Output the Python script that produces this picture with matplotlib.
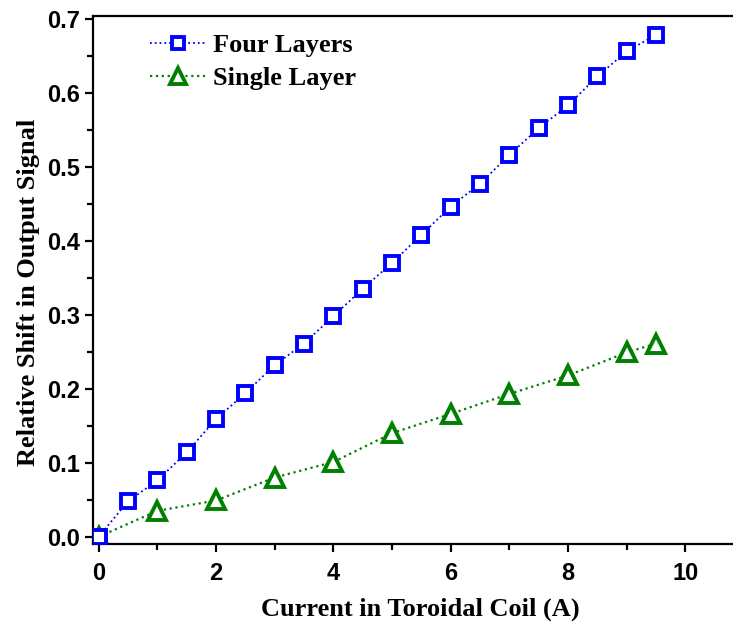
import matplotlib
matplotlib.use("Agg")
import matplotlib.pyplot as plt
from matplotlib.ticker import MultipleLocator

four_x = [0, 0.5, 1, 1.5, 2, 2.5, 3, 3.5, 4, 4.5, 5, 5.5, 6, 6.5, 7, 7.5, 8, 8.5, 9, 9.5]
four_y = [0.0, 0.048, 0.076, 0.114, 0.159, 0.194, 0.232, 0.261, 0.298, 0.335, 0.370, 0.408,
          0.446, 0.477, 0.516, 0.552, 0.583, 0.622, 0.656, 0.678]
single_x = [0, 1, 2, 3, 4, 5, 6, 7, 8, 9, 9.5]
single_y = [0.0, 0.035, 0.049, 0.080, 0.101, 0.140, 0.166, 0.193, 0.218, 0.249, 0.261]

fig = plt.figure(figsize=(7.33, 6.3), dpi=100)
ax = fig.add_axes([93/733, 86/630, 1 - 93/733, (544-16)/630])

ax.plot(four_x, four_y, linestyle=':', color='#0000ff', lw=1.3, marker='s', ms=10,
        mfc='white', mec='#0000ff', mew=2.8, label='Four Layers', zorder=3)
ax.plot(single_x, single_y, linestyle=':', color='#008000', lw=1.6, marker='^', ms=13,
        mfc='white', mec='#008000', mew=2.8, label='Single Layer', zorder=2)

ax.set_xlim(-0.097, 10.81)
ax.set_ylim(-0.0098, 0.7035)
ax.xaxis.set_major_locator(MultipleLocator(2))
ax.xaxis.set_minor_locator(MultipleLocator(1))
ax.yaxis.set_major_locator(MultipleLocator(0.1))
ax.yaxis.set_minor_locator(MultipleLocator(0.05))
ax.spines['right'].set_visible(False)
for s in ['left', 'bottom', 'top']:
    ax.spines[s].set_linewidth(1.6)
ax.tick_params(which='major', direction='out', length=6, width=1.6, top=False, right=False)
ax.tick_params(which='minor', direction='out', length=4, width=1.6, top=False, right=False)
ax.set_yticks([0, 0.1, 0.2, 0.3, 0.4, 0.5, 0.6, 0.7])
ax.set_yticklabels(['0.0', '0.1', '0.2', '0.3', '0.4', '0.5', '0.6', '0.7'])
ax.set_xticks([0, 2, 4, 6, 8, 10])
ax.set_xticklabels(['0', '2', '4', '6', '8', '10'])
for lab in ax.get_xticklabels() + ax.get_yticklabels():
    lab.set_fontfamily('Liberation Sans')
    lab.set_fontweight('bold')
    lab.set_fontsize(17)
ax.tick_params(axis='x', pad=7)
ax.tick_params(axis='y', pad=3)

ax.set_xlabel('Current in Toroidal Coil (A)', fontfamily='Liberation Serif', fontweight='bold',
              fontsize=19)
ax.set_ylabel('Relative Shift in Output Signal', fontfamily='Liberation Serif', fontweight='bold',
              fontsize=19)
ax.xaxis.set_label_coords((420 - 93) / 640, -(598 - 544) / 528)
ax.yaxis.set_label_coords((40 - 93) / 640, (544 - 292) / 528)

leg = ax.legend(loc='upper left', bbox_to_anchor=((150 - 93) / 640, (544 - 34) / 528),
                frameon=False, borderaxespad=0, borderpad=0,
                prop={'family': 'Liberation Serif', 'weight': 'bold', 'size': 19},
                handlelength=2.1, handletextpad=0.3, labelspacing=0.36, markerscale=0.88)

fig.savefig('out.png', dpi=100)
